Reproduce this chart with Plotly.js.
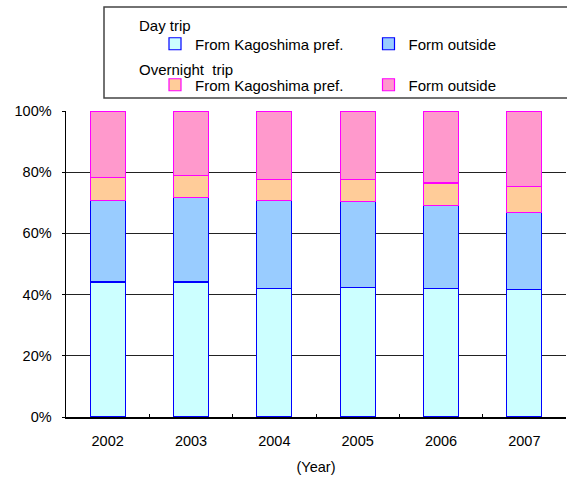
<!DOCTYPE html>
<html>
<head>
<meta charset="utf-8">
<script src="https://cdn.plot.ly/plotly-3.0.1.min.js"></script>
<style>
  html, body { margin: 0; padding: 0; background: #fff; }
  #chart { width: 567px; height: 477px; }
</style>
</head>
<body>
<div id="chart"></div>
<script>
// Share of visitors by trip type and origin (%)
const years = ['2002', '2003', '2004', '2005', '2006', '2007'];
const dayKagoshima = [44.1, 44.1, 42.0, 42.4, 42.0, 41.6];
const dayOutside = [26.7, 27.6, 28.8, 28.1, 27.0, 25.3];
const overnightKagoshima = [7.5, 7.1, 6.8, 7.1, 7.5, 8.4];
const overnightOutside = [21.7, 21.2, 22.4, 22.4, 23.5, 24.7];
const yTicks = [0, 20, 40, 60, 80, 100];

const FONT = 'Liberation Sans, Arial, sans-serif';
const BLUE = '#0000FF';
const MAGENTA = '#FF00FF';

function barTrace(name, values, fill, edge, legendId) {
  return {
    type: 'bar',
    name: name,
    x: years,
    y: values,
    legend: legendId,
    marker: { color: fill, line: { color: edge, width: 1.2 } },
    hoverinfo: 'x+y+name'
  };
}

const traces = [
  barTrace('From Kagoshima pref.', dayKagoshima, '#CCFFFF', BLUE, 'legend'),
  barTrace('Form outside', dayOutside, '#99CCFF', BLUE, 'legend2'),
  barTrace('From Kagoshima pref.', overnightKagoshima, '#FFCC99', MAGENTA, 'legend3'),
  barTrace('Form outside', overnightOutside, '#FF99CC', MAGENTA, 'legend4')
];

function legendAt(x, y) {
  return {
    x: x, y: y, xanchor: 'left', yanchor: 'middle',
    orientation: 'h',
    bgcolor: 'rgba(0,0,0,0)',
    borderwidth: 0,
    font: { family: FONT, size: 15, color: '#000' }
  };
}

const tickFont = { family: FONT, size: 14.5, color: '#000' };
const labelFont = { family: FONT, size: 15, color: '#000' };

const layout = {
  width: 567,
  height: 477,
  margin: { l: 66, r: 1, t: 111, b: 60 },
  paper_bgcolor: '#fff',
  plot_bgcolor: '#fff',
  barmode: 'stack',
  bargap: 0.58,
  font: tickFont,
  showlegend: true,
  legend: legendAt(0.178, 1.219),
  legend2: legendAt(0.605, 1.219),
  legend3: legendAt(0.178, 1.085),
  legend4: legendAt(0.605, 1.085),
  xaxis: {
    type: 'category',
    categoryorder: 'array',
    categoryarray: years,
    showline: true,
    linecolor: '#000',
    linewidth: 1.5,
    ticks: 'inside',
    tickson: 'boundaries',
    ticklen: 3,
    tickcolor: '#000',
    showgrid: false,
    zeroline: false,
    ticklabelstandoff: 10,
    tickfont: tickFont,
    title: { text: '(Year)', font: tickFont, standoff: 14 }
  },
  yaxis: {
    range: [0, 100],
    tickvals: yTicks,
    ticktext: yTicks.map(v => v + '%'),
    showline: true,
    linecolor: '#000',
    linewidth: 1.5,
    ticks: 'outside',
    ticklen: 3,
    tickcolor: '#000',
    showgrid: true,
    gridcolor: '#222',
    gridwidth: 1,
    zeroline: false,
    ticklabelstandoff: 7,
    tickfont: tickFont
  },
  shapes: [
    {
      type: 'rect', xref: 'paper', yref: 'paper',
      x0: 0.076, x1: 1.02, y0: 1.0425, y1: 1.34,
      line: { color: '#444', width: 1.5 },
      fillcolor: 'rgba(0,0,0,0)'
    }
  ],
  annotations: [
    {
      text: 'Day trip', xref: 'paper', yref: 'paper',
      x: 0.142, y: 1.281, xanchor: 'left', yanchor: 'middle',
      showarrow: false, font: labelFont
    },
    {
      text: 'Overnight&nbsp; trip', xref: 'paper', yref: 'paper',
      x: 0.142, y: 1.137, xanchor: 'left', yanchor: 'middle',
      showarrow: false, font: labelFont
    }
  ]
};

Plotly.newPlot('chart', traces, layout, { displayModeBar: false, staticPlot: true });
</script>
</body>
</html>
